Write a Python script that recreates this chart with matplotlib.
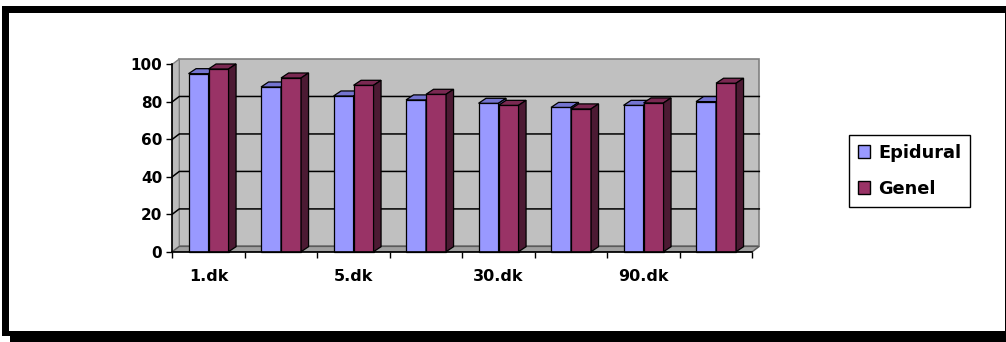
import matplotlib
matplotlib.use("Agg")
import matplotlib.pyplot as plt
from matplotlib.patches import Polygon, Rectangle, Patch
from matplotlib.lines import Line2D

# ---- data ----
tick_labels = ["1.dk", "", "5.dk", "", "30.dk", "", "90.dk", ""]
series_names = ["Epidural", "Genel"]
epidural = [95.0, 87.9, 83.1, 81.0, 79.2, 77.0, 78.1, 80.1]
genel = [97.5, 92.7, 88.8, 84.0, 78.1, 76.2, 79.4, 89.9]
y_ticks = [0, 20, 40, 60, 80, 100]

# ---- figure geometry (pixels) ----
W, H = 1006, 342
fig = plt.figure(figsize=(W / 100, H / 100), dpi=100)
fig.patch.set_facecolor("white")


def fx(px):
    return px / W


def fy(py):
    return (H - py) / H


# outer frame with drop shadow
frame_kw = dict(transform=fig.transFigure, facecolor="black", edgecolor="none")
fig.patches.append(Rectangle((fx(2), fy(13)), fx(1006) - fx(2), fy(6) - fy(13), **frame_kw))
fig.patches.append(Rectangle((fx(2), fy(336)), fx(9) - fx(2), fy(6) - fy(336), **frame_kw))
fig.patches.append(Rectangle((fx(2), fy(336)), fx(1006) - fx(2), fy(331) - fy(336), **frame_kw))
fig.patches.append(Rectangle((fx(10), fy(342)), fx(1006) - fx(10), fy(336) - fy(342), **frame_kw))
fig.patches.append(Rectangle((fx(1005), fy(336)), fx(1006) - fx(1005), fy(6) - fy(336), **frame_kw))

# plot area: front axes
ax_left, ax_right = 172.3, 752.3
ax_top, ax_bottom = 64.3, 251.7
ax = fig.add_axes([fx(ax_left), fy(ax_bottom), fx(ax_right) - fx(ax_left), fy(ax_top) - fy(ax_bottom)])
ax.patch.set_visible(False)
n = len(epidural)
ax.set_xlim(0, n)
ax.set_ylim(0, 100)

px_per_x = (ax_right - ax_left) / n
px_per_y = (ax_bottom - ax_top) / 100.0

# depth offsets for the pseudo-3D look
wall_dx, wall_dy = 7.0 / px_per_x, 5.3 / px_per_y
bar_dx, bar_dy = 7.5 / px_per_x, 5.0 / px_per_y

# back wall, side wall and floor
ax.add_patch(Polygon([(wall_dx, wall_dy), (n + wall_dx, wall_dy), (n + wall_dx, 100 + wall_dy),
                      (wall_dx, 100 + wall_dy)], closed=True, facecolor="#c0c0c0",
                     edgecolor="#808080", lw=1.2, zorder=0.5, clip_on=False))
ax.add_patch(Polygon([(0, 0), (wall_dx, wall_dy), (wall_dx, 100 + wall_dy), (0, 100)], closed=True,
                     facecolor="#bcbcbc", edgecolor="#808080", lw=1.0, zorder=0.55, clip_on=False))
ax.add_patch(Polygon([(0, 0), (n, 0), (n + wall_dx, wall_dy), (wall_dx, wall_dy)], closed=True,
                     facecolor="#a0a0a0", edgecolor="#5a5a5a", lw=1.0, zorder=0.55, clip_on=False))

# gridlines on the side and back walls
for v in y_ticks[1:-1]:
    ax.add_line(Line2D([0, wall_dx, n + wall_dx], [v, v + wall_dy, v + wall_dy],
                       color="black", lw=1.1, zorder=0.6, clip_on=False))

# bars
bar_w = 0.276
face_colors = {
    "Epidural": ("#9999ff", "#7474d0", "#5c5ca8"),
    "Genel": ("#993366", "#7a2952", "#4c1a33"),
}


def draw_bar(x0, value, colors, z):
    front, top, side = colors
    kw = dict(closed=True, edgecolor="black", lw=0.9, clip_on=False)
    ax.add_patch(Polygon([(x0, 0), (x0 + bar_w, 0), (x0 + bar_w, value), (x0, value)],
                         facecolor=front, zorder=z, **kw))
    ax.add_patch(Polygon([(x0, value), (x0 + bar_w, value), (x0 + bar_w + bar_dx, value + bar_dy),
                          (x0 + bar_dx, value + bar_dy)], facecolor=top, zorder=z, **kw))
    ax.add_patch(Polygon([(x0 + bar_w, 0), (x0 + bar_w + bar_dx, bar_dy),
                          (x0 + bar_w + bar_dx, value + bar_dy), (x0 + bar_w, value)],
                         facecolor=side, zorder=z, **kw))


for i in range(n):
    c = i + 0.5
    draw_bar(c - bar_w, epidural[i], face_colors["Epidural"], 2 + i * 0.1)
    draw_bar(c, genel[i], face_colors["Genel"], 2.05 + i * 0.1)

# axes, ticks, labels
for s in ("top", "right"):
    ax.spines[s].set_visible(False)
for s in ("left", "bottom"):
    ax.spines[s].set_color("black")
    ax.spines[s].set_linewidth(1.2)
    ax.spines[s].set_zorder(3)

ax.set_yticks(y_ticks)
ax.set_yticklabels([str(t) for t in y_ticks], fontsize=11, fontweight="bold")
ax.tick_params(axis="y", direction="out", length=4.0, width=1.0, pad=3.2, colors="black")

ax.set_xticks(range(n + 1))
ax.set_xticklabels([])
ax.tick_params(axis="x", which="major", direction="out", length=4.3, width=1.0)
ax.set_xticks([i + 0.5 for i in range(n)], minor=True)
ax.set_xticklabels(tick_labels, minor=True, fontsize=11.5, fontweight="bold")
ax.tick_params(axis="x", which="minor", length=0, pad=12.5)

# legend
handles = [Patch(facecolor=face_colors[name][0], edgecolor="black", lw=1.0) for name in series_names]
leg = fig.legend(handles, series_names, loc="upper left", bbox_to_anchor=(fx(849), fy(135)),
                 borderaxespad=0, frameon=True, fancybox=False, framealpha=1,
                 prop=dict(size=12.8, weight="bold"), handlelength=0.7, handleheight=0.7,
                 handletextpad=0.45, labelspacing=1.0, borderpad=0.5)
leg.get_frame().set_edgecolor("black")
leg.get_frame().set_linewidth(1.0)

fig.savefig("out.png", dpi=100)
